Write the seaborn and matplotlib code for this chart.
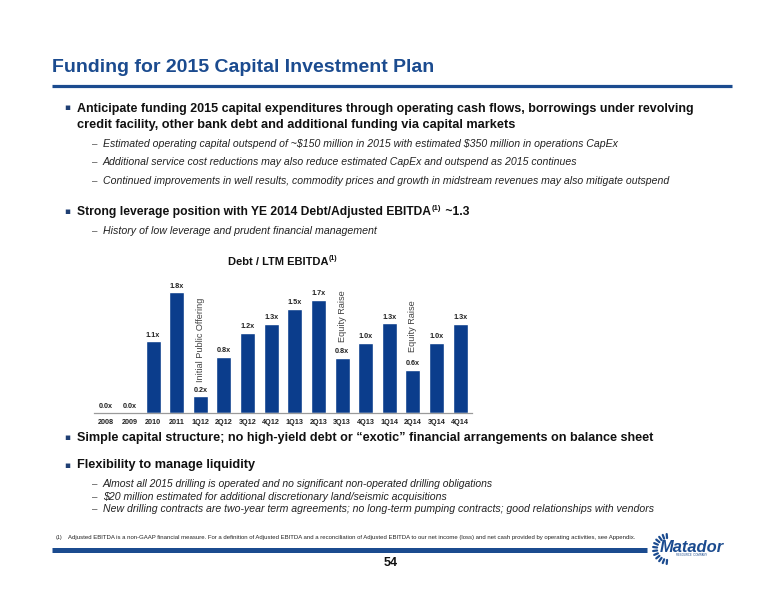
import matplotlib
matplotlib.use("Agg")
import matplotlib.pyplot as plt
from matplotlib.lines import Line2D
import numpy as np
import pandas as pd
import seaborn as sns

# ---------------- data ----------------
periods = ["2008", "2009", "2010", "2011", "1Q12", "2Q12", "3Q12", "4Q12",
           "1Q13", "2Q13", "3Q13", "4Q13", "1Q14", "2Q14", "3Q14", "4Q14"]
debt_to_ebitda = [0.0, 0.0, 1.06, 1.79, 0.24, 0.83, 1.19, 1.32,
                  1.54, 1.68, 0.81, 1.04, 1.33, 0.64, 1.04, 1.32]
events = ["Initial Public Offering", "Equity Raise", "Equity Raise"]
event_periods = ["1Q12", "3Q13", "2Q14"]
event_heights = [0.455, 1.05, 0.90]

title = "Funding for 2015 Capital Investment Plan"
chart_title = "Debt / LTM EBITDA"
bullet1 = ["Anticipate funding 2015 capital expenditures through operating cash flows, borrowings under revolving",
           "credit facility, other bank debt and additional funding via capital markets"]
sub1 = ["Estimated operating capital outspend of ~$150 million in 2015 with estimated $350 million in operations CapEx",
        "Additional service cost reductions may also reduce estimated CapEx and outspend as 2015 continues",
        "Continued improvements in well results, commodity prices and growth in midstream revenues may also mitigate outspend"]
bullet2 = ["Strong leverage position with YE 2014 Debt/Adjusted EBITDA", "(1)", " ~1.3"]
sub2 = ["History of low leverage and prudent financial management"]
bullet3 = "Simple capital structure; no high-yield debt or \u201cexotic\u201d financial arrangements on balance sheet"
bullet4 = "Flexibility to manage liquidity"
sub4 = ["Almost all 2015 drilling is operated and no significant non-operated drilling obligations",
        "$20 million estimated for additional discretionary land/seismic acquisitions",
        "New drilling contracts are two-year term agreements; no long-term pumping contracts; good relationships with vendors"]
footnote = ("Adjusted EBITDA is a non-GAAP financial measure. For a definition of Adjusted EBITDA and a reconciliation "
            "of Adjusted EBITDA to our net income (loss) and net cash provided by operating activities, see Appendix.")
page_number = "54"

# ---------------- style ----------------
sns.set_theme(style="white")
plt.rcParams["font.family"] = ["Liberation Sans", "DejaVu Sans"]

NAVY = "#0B3D8C"
TITLE_BLUE = "#1B4B8F"
W, H = 776, 600
fig = plt.figure(figsize=(W / 100, H / 100), dpi=100)
fig.patch.set_facecolor("white")
renderer = fig.canvas.get_renderer()


def fx(x):
    return x / W


def fy(y):
    return 1 - y / H


def esc(s):
    return s.replace("$", r"\$")


def put(x, y, s, size, **kw):
    kw.setdefault("va", "center")
    kw.setdefault("ha", "left")
    return fig.text(fx(x), fy(y), esc(s), fontsize=size, **kw)


def fit(x0, x1, y, s, base, **kw):
    t = put(x0, y, s, base, **kw)
    w = t.get_window_extent(renderer).width
    t.set_fontsize(base * (x1 - x0) / w)
    return t


def hline(x0, x1, y, lw, color):
    fig.add_artist(Line2D([fx(x0), fx(x1)], [fy(y), fy(y)], lw=lw, color=color,
                          transform=fig.transFigure, solid_capstyle="butt"))


def bullet(y):
    put(64, y, "\u25aa", 6.5, color="#1F3F73", family=["DejaVu Sans"])


def dash(y):
    put(92, y, "\u2013", 7, color="#555555")


# title + rule
fit(52, 435, 67, title, 14, color=TITLE_BLUE, weight="bold")
hline(52, 732, 86, 2.3, TITLE_BLUE)

# bullet 1
bullet(108)
fit(77, 695, 109, bullet1[0], 9, weight="bold", color="#111111")
fit(77, 515, 125, bullet1[1], 9, weight="bold", color="#111111")
for y, s, x1 in zip([144, 162, 181], sub1, [615, 576, 668]):
    dash(y)
    fit(103, x1, y, s, 7.5, style="italic", color="#222222")

# bullet 2 with superscript
bullet(212)
t_main = put(77, 212, bullet2[0], 9 * 0.97, weight="bold", color="#111111")
bb = t_main.get_window_extent(renderer)
t_sup = put(bb.x1 + 1, 208, bullet2[1], 5.5, weight="bold", color="#111111")
bb2 = t_sup.get_window_extent(renderer)
put(bb2.x1, 212, bullet2[2], 9 * 0.97, weight="bold", color="#111111")
dash(231)
fit(103, 376, 231, sub2[0], 7.5, style="italic", color="#222222")

# ---------------- chart ----------------
ax_left, ax_right, ax_base, ax_top = 94, 472, 412.5, 265.0
ax = fig.add_axes([fx(ax_left), fy(ax_base), (ax_right - ax_left) / W, (ax_base - ax_top) / H])
df = pd.DataFrame({"period": periods, "ratio": debt_to_ebitda})
sns.barplot(data=df, x="period", y="ratio", color=NAVY, saturation=1, width=0.64, ax=ax)
ax.set_ylim(0, 2.2)
ax.set_xlim(-0.5, len(periods) - 0.5)
ax.set_xlabel("")
ax.set_ylabel("")
ax.set_yticks([])
ax.set_facecolor("none")
for side in ["top", "left", "right"]:
    ax.spines[side].set_visible(False)
ax.spines["bottom"].set_color("#9A9A9A")
ax.spines["bottom"].set_linewidth(0.9)
ax.tick_params(axis="x", length=0, pad=4.5, labelsize=5.2)
for lab in ax.get_xticklabels():
    lab.set_fontweight("bold")
    lab.set_color("#222222")
ax.bar_label(ax.containers[0], labels=[f"{v:.1f}x" for v in debt_to_ebitda],
             padding=2, fontsize=5.2, fontweight="bold", color="#222222")
for name, per, h in zip(events, event_periods, event_heights):
    ax.text(periods.index(per), h, name, rotation=90, ha="center", va="bottom",
            fontsize=6.6, color="#444444")

# chart title with superscript
ct = put(228, 262, chart_title, 8.0, weight="bold", color="#111111")
cb = ct.get_window_extent(renderer)
put(cb.x1 + 0.5, 258.5, "(1)", 5.0, weight="bold", color="#111111")

# ---------------- lower bullets ----------------
bullet(438)
fit(77, 656, 438, bullet3, 9, weight="bold", color="#111111")
bullet(465)
fit(77, 255, 465, bullet4, 9, weight="bold", color="#111111")
for y, s, x1 in zip([484, 497, 509], sub4, [501, 448, 657]):
    dash(y)
    fit(103, x1, y, s, 8, style="italic", color="#222222")

# footnote
put(56, 538, "(1)", 3.9, color="#222222")
fit(68, 631, 538, footnote, 4, color="#222222")

# bottom rule, page number
hline(52, 647, 550, 3.6, TITLE_BLUE)
put(391, 563, page_number, 9, weight="bold", ha="center", color="#111111")

# logo: radial ticks + wordmark
cx, cy, r = 668, 549, 15
for ang in np.linspace(95, 265, 12):
    a = np.deg2rad(ang)
    x0, y0 = cx + (r - 4) * np.cos(a), cy - (r - 4) * np.sin(a)
    x1, y1 = cx + r * np.cos(a), cy - r * np.sin(a)
    fig.add_artist(Line2D([fx(x0), fx(x1)], [fy(y0), fy(y1)], lw=1.6, color=TITLE_BLUE,
                          transform=fig.transFigure))
fit(660, 724, 547, "Matador", 10, weight="bold", style="italic", color=TITLE_BLUE)
put(692, 555.5, "RESOURCE  COMPANY", 2.0, color=TITLE_BLUE, ha="center")

fig.savefig("out.png", dpi=100, facecolor="white")
